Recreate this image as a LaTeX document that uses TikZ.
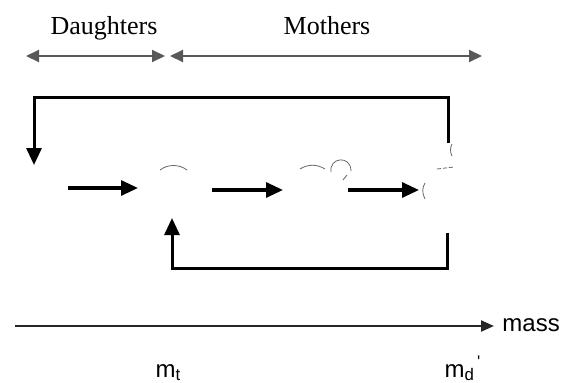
\documentclass[tikz,border=0pt]{standalone}
\usepackage{fontspec}
\setmainfont{Liberation Serif}
\setsansfont{Liberation Sans}
\usetikzlibrary{arrows.meta,calc}

\begin{document}
\begin{tikzpicture}[x=1pt,y=-1pt,
    span/.style={draw=black!65,line width=2pt,{Triangle[length=13pt,width=12pt]}-{Triangle[length=13pt,width=12pt]}},
    flow/.style={line width=3.2pt,-{Triangle[length=17pt,width=15pt]}},
    loop/.style={line width=3pt,-{Triangle[length=17pt,width=15pt]}},
    axis/.style={line width=2.3pt,draw=black!85,-{Triangle[length=13pt,width=11pt]}},
    cell/.style={draw=black!60,line width=0.8pt},
    head/.style={font=\fontsize{26}{30}\selectfont,anchor=base},
    lab/.style={font=\sffamily\fontsize{24}{28}\selectfont}]
        \useasboundingbox (0,0) rectangle (579,383);
        % populations
        \coordinate (D1) at (26,56);
        \coordinate (D2) at (165,56);
        \coordinate (M1) at (170,56);
        \coordinate (M2) at (482,56);
        \node[head] (dau) at (104,34) {Daughters};
        \node[head] (mot) at (327,34) {Mothers};
        \draw[span] (D1)--(D2);
        \draw[span] (M1)--(M2);
        % division loop
        \coordinate (T1) at (448,143);
        \coordinate (T2) at (34,165);
        \draw[loop] (T1)--(448,97)--(34,97)--(T2);
        % growth
        \coordinate (G1) at (68,188);
        \coordinate (G2) at (138,188);
        \coordinate (G3) at (212,190);
        \coordinate (G4) at (283,190);
        \coordinate (G5) at (348,190);
        \coordinate (G6) at (419,190);
        \draw[flow] (G1)--(G2);
        \draw[flow] (G3)--(G4);
        \draw[flow] (G5)--(G6);
        % faint cells
        \draw[cell] (160,170) .. controls (168,164) and (179,164) .. (187,170);
        \draw[cell] (300,169) .. controls (308,164) and (317,164) .. (325,169);
        \draw[cell] (331,172) .. controls (329,157) and (351,155) .. (351,171);
        \draw[cell] (343,180)--(347,175);
        \draw[cell] (452,144) .. controls (450,148) and (450,152) .. (452,156);
        \draw[cell,dashed,dash pattern=on 4pt off 2pt] (437,169)--(454,167);
        \draw[cell] (425,183) .. controls (422,188) and (422,193) .. (425,199);
        % return loop
        \coordinate (B1) at (447,233);
        \coordinate (B2) at (172,218);
        \draw[loop] (B1)--(447,268)--(172,268)--(B2);
        % mass axis
        \coordinate (X1) at (15,326);
        \coordinate (X2) at (494,326);
        \draw[axis] (X1)--(X2)node[lab,right=4pt,yshift=1pt]{mass};
        \node[lab,anchor=base west] (mt) at (152,377) {m\textsubscript{t}};
        \node[lab,anchor=base west] (md) at (441,377) {m\textsubscript{d}\textsuperscript{\,\textquotesingle}};
\end{tikzpicture}
\end{document}
